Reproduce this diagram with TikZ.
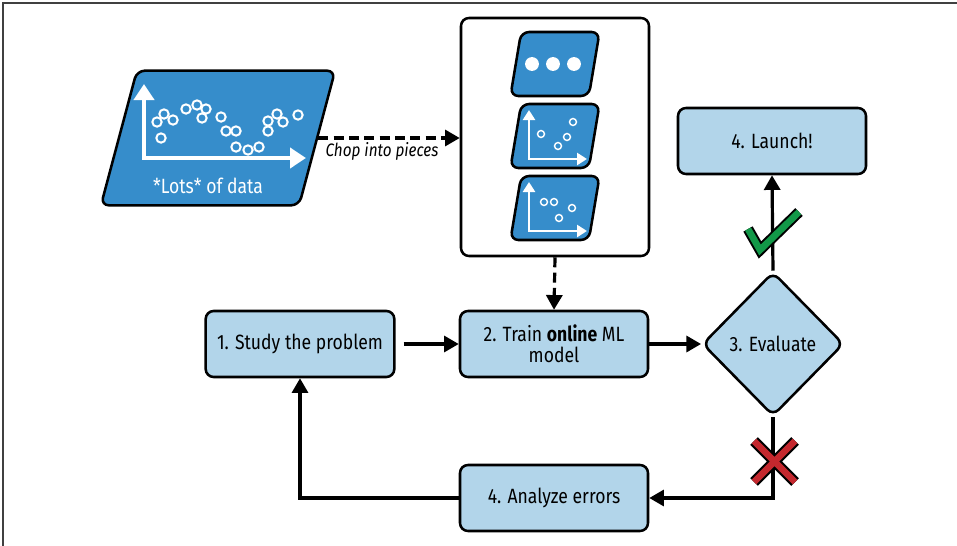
\documentclass[tikz,border=0pt]{standalone}
\usepackage{fontspec}
\setmainfont{Fira Sans}[FakeStretch=0.85]
\usetikzlibrary{arrows.meta, positioning, shapes.geometric}

\definecolor{stepfill}{RGB}{178,213,234}
\definecolor{datablue}{RGB}{54,141,203}
\definecolor{okgreen}{RGB}{18,152,72}
\definecolor{badred}{RGB}{196,40,46}

\tikzset{
	stepbox/.style={draw, line width=1.9pt, rounded corners=6pt, fill=stepfill,
		minimum width=141pt, minimum height=49.5pt, align=center,
		font=\fontsize{15.5}{16}\selectfont},
	datashape/.style={trapezium, draw, line width=1.9pt, rounded corners=6pt,
		fill=datablue, trapezium stretches=true},
	link/.style={line width=2.4pt, -{Triangle[length=11pt,width=12pt]}},
	dashlink/.style={link, dash pattern=on 7.5pt off 4pt},
	dot/.style={draw=white, fill=datablue},
}

\begin{document}
\begin{tikzpicture}[x=0.75pt, y=-0.75pt, inner sep=3mm]
	\useasboundingbox (0,0) rectangle (957,546);
	\draw[black!75, line width=1.2pt] (3,546) -- (3,3) -- (957,3);

	% the data set
	\node[datashape, trapezium left angle=77.5, trapezium right angle=102.5,
		minimum width=176pt, minimum height=101pt] (Data) at (218,138) {};
	\draw[white, line width=3.4pt, {Triangle[length=12pt,width=15pt]}-{Triangle[length=12pt,width=15pt]}]
		(144,84) -- (144,158) -- (306,158);
	\foreach \x/\y in {157/122, 164/114, 173/120, 161/138, 186/109, 197/105, 206/109,
		202/118, 221/117, 226/131, 236/131, 236/147, 248/150, 259/147, 268/131,
		268/121, 277/114, 283/122, 298/115}
		\draw[dot, line width=1.5pt] (\x,\y) circle (3.5pt);
	\node[text=white, inner sep=0pt, font=\fontsize{15.5}{16}\selectfont] (DataLbl) at (208,186) {*Lots* of data};

	% the pieces
	\node[draw, line width=1.9pt, rounded corners=6pt, minimum width=141pt,
		minimum height=178.5pt] (Pieces) at (555,137) {};
	\node[datashape, trapezium left angle=81, trapezium right angle=99,
		minimum width=67pt, minimum height=48pt] (P1) at (555,64) {};
	\node[datashape, trapezium left angle=81, trapezium right angle=99,
		minimum width=67pt, minimum height=48pt] (P2) at (555,136) {};
	\node[datashape, trapezium left angle=81, trapezium right angle=99,
		minimum width=67pt, minimum height=48pt] (P3) at (555,208) {};
	\foreach \x in {532,553,574}
		\fill[white] (\x,64) circle (5.2pt);
	\foreach \n/\y in {P2/159, P3/231}
		\draw[white, line width=2.2pt, {Triangle[length=7.5pt,width=9pt]}-{Triangle[length=7.5pt,width=9pt]}]
			(529,\y-49) -- (529,\y) -- (587,\y);
	\foreach \x/\y in {541/134, 573/122, 567/137, 558/146, 544/202, 554/202, 572/208, 559/218}
		\draw[dot, line width=1.1pt] (\x,\y) circle (2.6pt);

	% the steps
	\node[stepbox] (Study) at (300,344) {1. Study the problem};
	\node[stepbox] (Train) at (554,344) {2. Train \textbf{online} ML\\model};
	\node[stepbox] (Errors) at (554,498) {4. Analyze errors};
	\node[stepbox] (Launch) at (772,141) {4. Launch!};
	\node[diamond, draw, line width=1.9pt, rounded corners=6pt, fill=stepfill,
		inner sep=0pt, minimum width=106pt, minimum height=108pt,
		font=\fontsize{15.5}{16}\selectfont] (Eval) at (773,344) {3. Evaluate};

	\draw[dashlink] (Data.east) -- (Data.east -| Pieces.west)
		node[pos=0.45, below, inner sep=2pt, font=\fontsize{13.5}{14}\selectfont\itshape] {Chop into pieces};
	\draw[dashlink] (Pieces.south) -- (Train.north);
	\draw[link, shorten <=6pt] (Study.east) -- (Train.west);
	\draw[link] (Train.east) -- (Eval.west);
	\draw[link] (Eval.north) -- (Launch.south);
	\draw[link] (Eval.south) |- (Errors.east);
	\draw[link] (Errors.west) -| (Study.south);

	% yes / no marks
	\draw[black, line width=8pt] (748,229) -- (760,250) -- (799,212);
	\draw[okgreen, line width=5pt] (748,229) -- (760,250) -- (799,212);
	\draw[black, line width=8pt] (754,441) -- (795,482) (795,441) -- (754,482);
	\draw[badred, line width=5pt] (754,441) -- (795,482) (795,441) -- (754,482);
\end{tikzpicture}
\end{document}
